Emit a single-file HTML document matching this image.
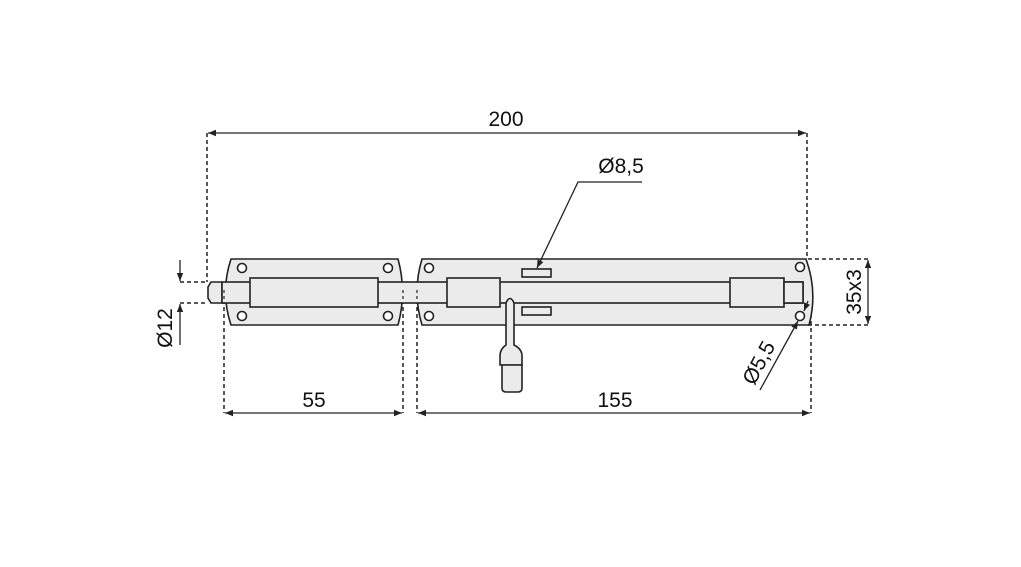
<!DOCTYPE html>
<html><head><meta charset="utf-8"><style>
html,body{margin:0;padding:0;background:#fff;}
svg{display:block;}
text{font-family:"Liberation Sans Narrow","Liberation Sans",sans-serif;font-size:21px;fill:#111;}
</style></head><body>
<svg width="1021" height="567" viewBox="0 0 1021 567" xmlns="http://www.w3.org/2000/svg">
<defs>
<marker id="a" viewBox="0 0 10 10" refX="10" refY="5" markerWidth="10" markerHeight="8" orient="auto-start-reverse" markerUnits="userSpaceOnUse"><path d="M0,1 L10,5 L0,9 z" fill="#222"/></marker>
</defs>
<g stroke="#222" stroke-width="1.5" fill="none" stroke-dasharray="4,3">
<line x1="207" y1="133" x2="207" y2="282"/>
<line x1="807" y1="133" x2="807" y2="259"/>
<line x1="224" y1="300" x2="224" y2="413"/>
<line x1="403" y1="300" x2="403" y2="413"/>
<line x1="417" y1="300" x2="417" y2="413"/>
<line x1="811" y1="300" x2="811" y2="413"/>
<line x1="808" y1="259" x2="868" y2="259"/>
<line x1="808" y1="325" x2="868" y2="325"/>
<line x1="180" y1="282" x2="207" y2="282"/>
<line x1="180" y1="303" x2="207" y2="303"/>
</g>
<g stroke="#222" stroke-width="1.6" fill="#ebebeb">
<path d="M231,259 L398,259 Q407,292 398,325 L231,325 Q220,292 231,259 Z"/>
<path d="M422,259 L806,259 Q818,292 809,325 L422,325 Q412,292 422,259 Z"/>
<path d="M222,282 L222,303 L211,303 L208,298 L208,287 L211,282 Z"/>
<rect x="222" y="282" width="581" height="21"/>
<rect x="250" y="278" width="128" height="29"/>
<rect x="447" y="278" width="53" height="29"/>
<rect x="730" y="278" width="54" height="29"/>
<rect x="784" y="282" width="19" height="21"/>
<rect x="522" y="269" width="29" height="8"/>
<rect x="522" y="307" width="29" height="8"/>
<path d="M506,345 L506,303 Q510,294 514,303 L514,345 Q522,349 522,356 L522,365 L500,365 L500,356 Q500,349 506,345 Z"/>
<path d="M502,365 L522,365 L522,388 Q522,392 518,392 L506,392 Q502,392 502,388 Z"/>
</g>
<g stroke="#222" stroke-width="1.6" fill="#fff">
<circle cx="242" cy="268" r="4.5"/><circle cx="388" cy="268" r="4.5"/>
<circle cx="242" cy="316" r="4.5"/><circle cx="388" cy="316" r="4.5"/>
<circle cx="429" cy="268" r="4.5"/><circle cx="429" cy="316" r="4.5"/>
<circle cx="800" cy="267" r="4.5"/><circle cx="800" cy="316" r="4.5"/>
</g>
<g stroke="#333" stroke-width="1.3" stroke-dasharray="3,3">
<line x1="224" y1="290" x2="224" y2="300"/>
<line x1="403" y1="290" x2="403" y2="300"/>
<line x1="417" y1="290" x2="417" y2="300"/>
</g>
<g stroke="#222" stroke-width="1.3" fill="none">
<line x1="208" y1="133" x2="806" y2="133" marker-start="url(#a)" marker-end="url(#a)"/>
<line x1="225" y1="413" x2="402" y2="413" marker-start="url(#a)" marker-end="url(#a)"/>
<line x1="418" y1="413" x2="810" y2="413" marker-start="url(#a)" marker-end="url(#a)"/>
<line x1="868" y1="260" x2="868" y2="324" marker-start="url(#a)" marker-end="url(#a)"/>
<line x1="180" y1="260" x2="180" y2="281" marker-end="url(#a)"/>
<line x1="180" y1="345" x2="180" y2="304" marker-end="url(#a)"/>
<polyline points="642,182 578,182 537,268" marker-end="url(#a)"/>
<line x1="760" y1="390" x2="798" y2="321" marker-end="url(#a)"/>
<line x1="808" y1="301" x2="804" y2="311" marker-end="url(#a)"/>
</g>
<text x="506" y="126" text-anchor="middle">200</text>
<text x="314" y="407" text-anchor="middle">55</text>
<text x="615" y="407" text-anchor="middle">155</text>
<text x="621" y="173" text-anchor="middle">Ø8,5</text>
<text transform="translate(861,292) rotate(-90)" text-anchor="middle">35x3</text>
<text transform="translate(172,328) rotate(-90)" text-anchor="middle">Ø12</text>
<text transform="translate(765,366) rotate(-62)" text-anchor="middle">Ø5,5</text>
</svg>
</body></html>
